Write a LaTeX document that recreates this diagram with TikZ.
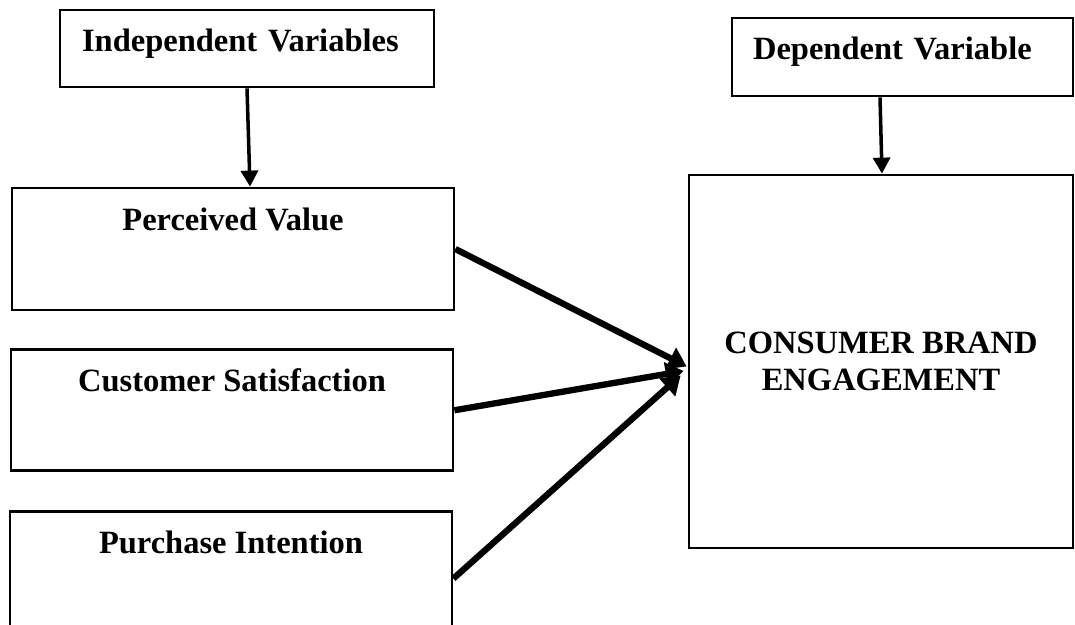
\documentclass[tikz,border=0pt]{standalone}
\usepackage{fontspec}
\setmainfont{Liberation Serif}
\usetikzlibrary{
    arrows.meta,
    positioning,
}

\begin{document}
\begin{tikzpicture}[
    x=0.02cm, y=-0.02cm,
    varbox/.style={draw, line width=1.6pt, inner ysep=0pt, text height=0.84cm,
        font=\fontsize{18.5}{21}\selectfont\bfseries},
    headbox/.style={varbox, inner xsep=0.44cm, align=left},
    leftbox/.style={varbox, minimum width=8.84cm},
    bigbox/.style={draw, line width=1.6pt, inner sep=0pt, align=center,
        minimum width=7.68cm, minimum height=7.46cm,
        font=\fontsize{18.5}{21.5}\selectfont\bfseries},
    thin/.style={-{Triangle[length=0.32cm, width=0.34cm]}, line width=2pt},
    thick/.style={-{Triangle[length=0.36cm, width=0.46cm]}, line width=3.6pt},
]
\clip (0,0) rectangle (1075,625);

\node[headbox, text width=6.6cm, text depth=0.70cm] (iv) at (247,48.5) {Independent Variables};
\node[headbox, text width=5.98cm, inner xsep=0.42cm, text depth=0.72cm] (dv) at (902.5,57) {Dependent Variable};

\node[leftbox, text depth=1.60cm] (pv) at (233,249) {Perceived Value};
\node[leftbox, text depth=1.58cm] (cs) [below=0.74cm of pv.south, anchor=north, xshift=-0.02cm] {Customer Satisfaction};
\node[leftbox, text depth=1.84cm] (pi) [below=0.76cm of cs.south, anchor=north, xshift=-0.02cm] {Purchase Intention};

\node[bigbox] (ceb) at (881,361.5) {CONSUMER BRAND\\ENGAGEMENT};

\draw[thin] (iv.south) -- ([xshift=0.34cm]pv.north);
\draw[thin] ([xshift=-0.45cm]dv.south) -- ([xshift=0.02cm]ceb.north);

\draw[thick] (pv.east) -- ([xshift=-0.02cm, yshift=-0.1cm]ceb.west);
\draw[thick] (cs.east) -- ([xshift=-0.08cm, yshift=-0.19cm]ceb.west);
\draw[thick] (pi.east) -- ([xshift=-0.14cm, yshift=-0.28cm]ceb.west);

\end{tikzpicture}
\end{document}
